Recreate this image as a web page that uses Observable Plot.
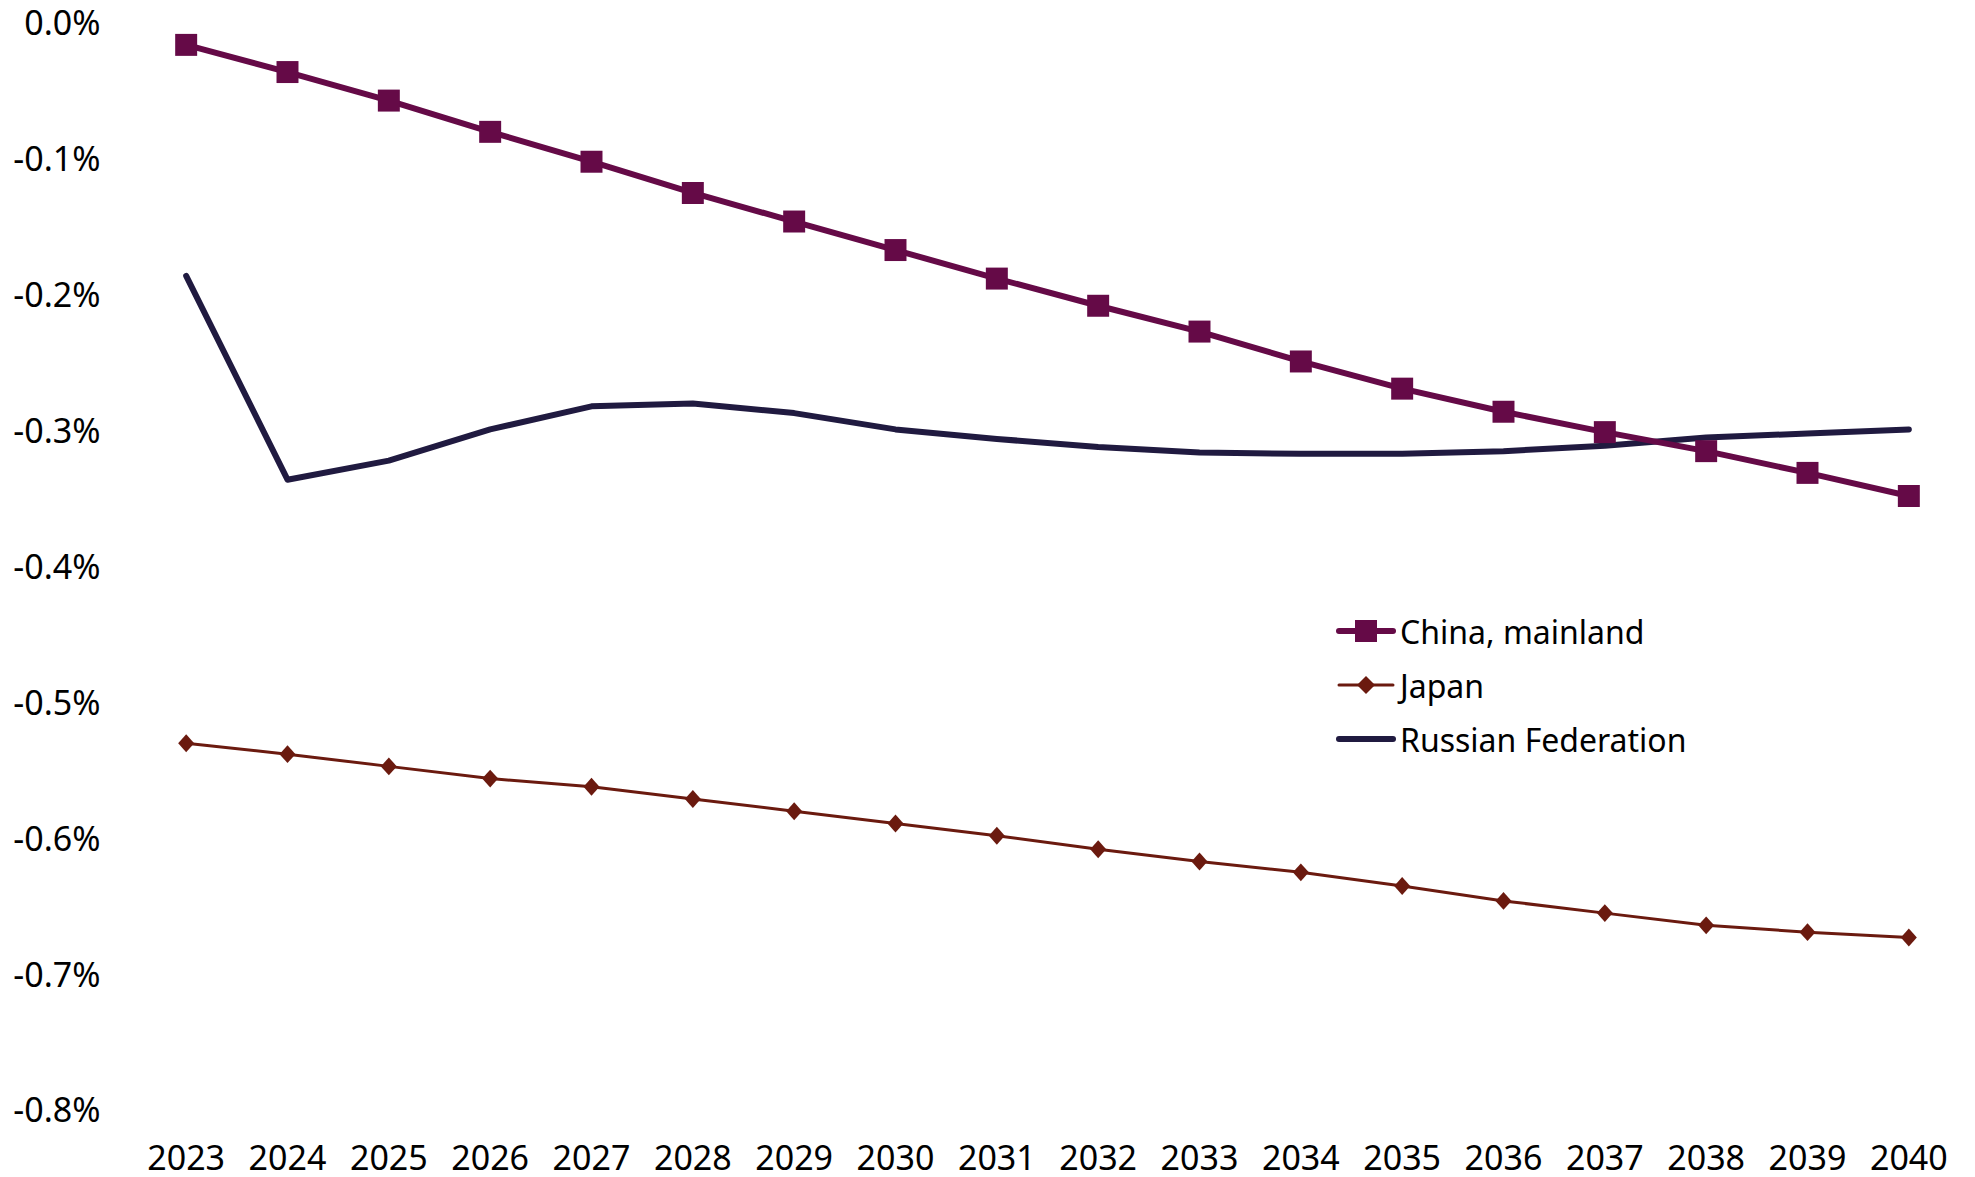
<!DOCTYPE html>
<html>
<head>
<meta charset="utf-8">
<script src="https://cdn.jsdelivr.net/npm/d3@7"></script>
<script src="https://cdn.jsdelivr.net/npm/@observablehq/plot@0.6"></script>
<style>
  html, body { margin: 0; padding: 0; background: #fff; }
  #wrap { position: relative; width: 1975px; height: 1177px; font-family: "Noto Sans", sans-serif; }
  .legend { position: absolute; left: 1336px; top: 604px; font-size: 32px; color: #000; }
  .legend .row { display: flex; align-items: center; height: 54px; }
  .legend svg { display: block; margin-right: 4px; }
</style>
</head>
<body>
<div id="wrap"></div>
<script>
const years = [2023, 2024, 2025, 2026, 2027, 2028, 2029, 2030, 2031, 2032, 2033, 2034, 2035, 2036, 2037, 2038, 2039, 2040];
const seriesNames = ["China, mainland", "Japan", "Russian Federation"];
const china  = [-0.015, -0.035, -0.056, -0.079, -0.101, -0.124, -0.145, -0.166, -0.187, -0.207, -0.226, -0.248, -0.268, -0.285, -0.300, -0.314, -0.330, -0.347];
const japan  = [-0.529, -0.537, -0.546, -0.555, -0.561, -0.570, -0.579, -0.588, -0.597, -0.607, -0.616, -0.624, -0.634, -0.645, -0.654, -0.663, -0.668, -0.672];
const russia = [-0.185, -0.335, -0.321, -0.298, -0.281, -0.279, -0.286, -0.298, -0.305, -0.311, -0.315, -0.316, -0.316, -0.314, -0.310, -0.304, -0.301, -0.298];
const yTicks = [0, -0.1, -0.2, -0.3, -0.4, -0.5, -0.6, -0.7, -0.8];

const colors = {"China, mainland": "#650a47", "Japan": "#6b1a0f", "Russian Federation": "#201a40"};

const toRows = (name, vals) => vals.map((v, i) => ({series: name, year: years[i], value: v}));
const chinaRows = toRows(seriesNames[0], china);
const japanRows = toRows(seriesNames[1], japan);
const russiaRows = toRows(seriesNames[2], russia);

const tallDiamond = {
  draw(context, size) {
    const s = Math.sqrt(size / Math.PI);
    const hw = s, hh = s * 1.12;
    context.moveTo(0, -hh);
    context.lineTo(hw, 0);
    context.lineTo(0, hh);
    context.lineTo(-hw, 0);
    context.closePath();
  }
};

const chart = Plot.plot({
  width: 1975,
  height: 1177,
  marginTop: 24,
  marginBottom: 66,
  marginLeft: 135,
  marginRight: 16,
  style: {fontFamily: "'Noto Sans', sans-serif", fontSize: "34px", color: "#000", background: "#fff", overflow: "visible"},
  x: {type: "point", domain: years, padding: 0.5, align: 0.5, round: false, label: null},
  y: {domain: [-0.8, 0], label: null},
  marks: [
    Plot.ruleY([0], {stroke: "#d9d9d9", strokeWidth: 2.5, x1: 135, x2: 1975}),
    Plot.axisY({ticks: yTicks, tickSize: 0, tickPadding: 35, tickFormat: d => d.toFixed(1) + "%", fontSize: 34, label: null}),
    Plot.axisX({tickSize: 0, tickPadding: 34, tickFormat: d => String(d), fontSize: 34, label: null}),
    Plot.lineY(russiaRows, {x: "year", y: "value", stroke: colors["Russian Federation"], strokeWidth: 6}),
    Plot.lineY(japanRows, {x: "year", y: "value", stroke: colors["Japan"], strokeWidth: 3}),
    Plot.dot(japanRows, {x: "year", y: "value", symbol: tallDiamond, r: 8, fill: colors["Japan"], stroke: "none"}),
    Plot.lineY(chinaRows, {x: "year", y: "value", stroke: colors["China, mainland"], strokeWidth: 6}),
    Plot.dot(chinaRows, {x: "year", y: "value", symbol: "square", r: 12.4, fill: colors["China, mainland"], stroke: "none"})
  ]
});

const wrap = document.getElementById("wrap");
wrap.appendChild(chart);

// legend
const legend = document.createElement("div");
legend.className = "legend";
const ns = "http://www.w3.org/2000/svg";
seriesNames.forEach(name => {
  const row = document.createElement("div");
  row.className = "row";
  const svg = document.createElementNS(ns, "svg");
  svg.setAttribute("width", "60");
  svg.setAttribute("height", "30");
  const line = document.createElementNS(ns, "line");
  line.setAttribute("x1", "3"); line.setAttribute("x2", "57");
  line.setAttribute("y1", "15"); line.setAttribute("y2", "15");
  line.setAttribute("stroke", colors[name]);
  line.setAttribute("stroke-linecap", "round");
  line.setAttribute("stroke-width", name === "Japan" ? "3" : "6");
  svg.appendChild(line);
  if (name === "China, mainland") {
    const r = document.createElementNS(ns, "rect");
    r.setAttribute("x", "19"); r.setAttribute("y", "4");
    r.setAttribute("width", "22"); r.setAttribute("height", "22");
    r.setAttribute("fill", colors[name]);
    svg.appendChild(r);
  } else if (name === "Japan") {
    const p = document.createElementNS(ns, "path");
    p.setAttribute("d", "M30,6 L39,15 L30,24 L21,15 Z");
    p.setAttribute("fill", colors[name]);
    svg.appendChild(p);
  }
  row.appendChild(svg);
  const t = document.createElement("span");
  t.textContent = name;
  row.appendChild(t);
  legend.appendChild(row);
});
wrap.appendChild(legend);
</script>
</body>
</html>
